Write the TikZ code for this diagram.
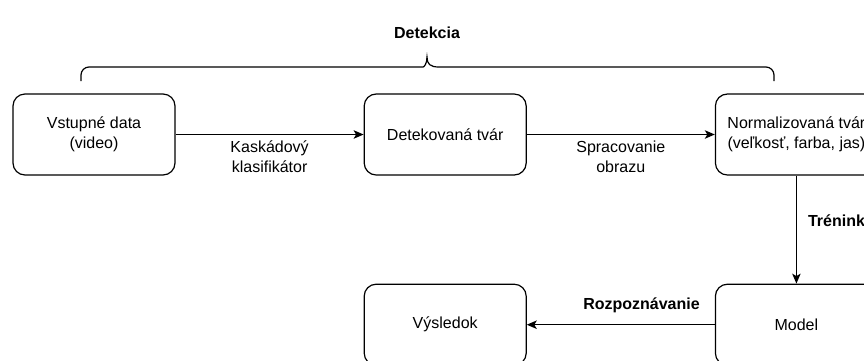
\documentclass[tikz,border=0pt]{standalone}
\usepackage{fontspec}
\setmainfont{Liberation Sans}
\usetikzlibrary{arrows.meta,positioning}

\begin{document}
\begin{tikzpicture}[
      x=1pt, y=-1pt,
      node distance=108pt and 188pt,
      box/.style={draw, line width=1.2pt, rounded corners=12pt, align=center,
        minimum height=81pt, minimum width=162pt, font=\fontsize{16}{20}\selectfont},
      arrow/.style={-{Stealth[length=10pt,width=8.5pt,inset=2.5pt]}, line width=1.2pt},
      lbl/.style={align=center, font=\fontsize{16}{20}\selectfont, inner sep=2pt},
      title/.style={font=\fontsize{16}{20}\selectfont\bfseries, inner sep=2pt},
      brace/.style={line width=1.2pt}
    ]
    \path[use as bounding box, clip] (0,0) rectangle (864,360);
    \node[title] (detection) at (427,33) {Detekcia};
    \node[box] (input) at (94,134.5) {Vstupné data\\(video)};
    \node[box, right=of input] (face) {Detekovaná tvár};
    \node[box, right=of face] (normface) {Normalizovaná tvár\\(veľkosť, farba, jas)};
    \node[box, below=of normface] (model) {Model};
    \node[box, left=of model] (result) {Výsledok};
    \draw[brace] (81,81) [rounded corners=8pt] |- (415,67) [sharp corners]
      .. controls (424,67) and (427,64) .. (427,57)
      .. controls (427,64) and (430,67) .. (439,67) [rounded corners=8pt] -| (774,81);
    \draw[arrow] (input) -- node[lbl, below=4pt] {Kaskádový\\klasifikátor} (face);
    \draw[arrow] (face) -- node[lbl, below=4pt] {Spracovanie\\obrazu} (normface);
    \draw[arrow] (normface) -- node[title, right=9pt, pos=0.42] {Trénink} (model);
    \draw[arrow] (model) -- node[title, above=9pt, pos=0.39] {Rozpoznávanie} (result);
  \end{tikzpicture}
\end{document}
